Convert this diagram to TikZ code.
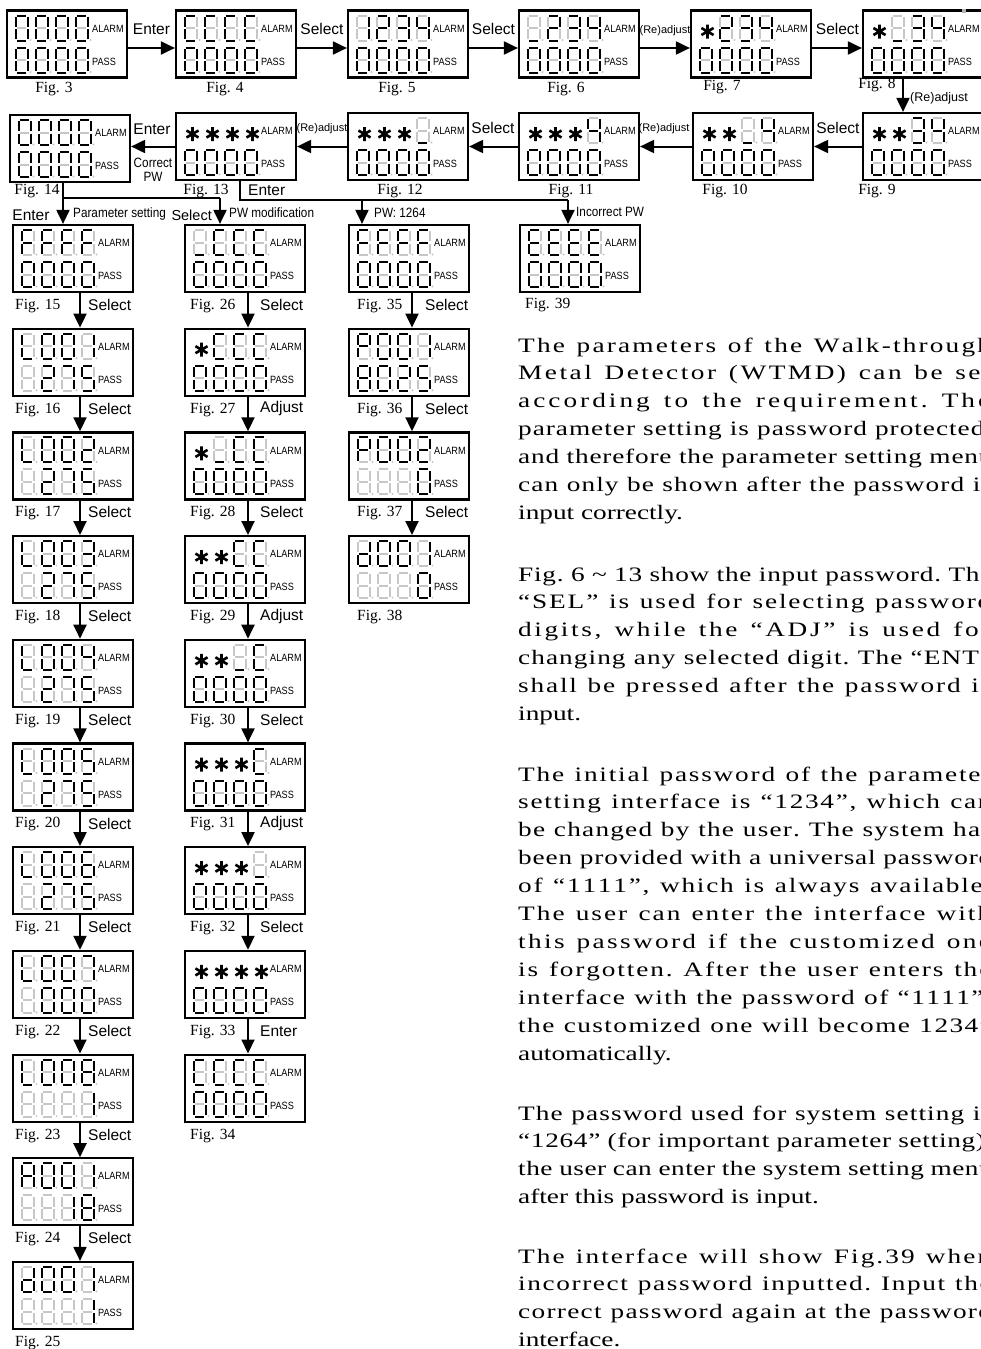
\documentclass[tikz,border=0pt]{standalone}
\usepackage{fontspec}
\setmainfont{Liberation Serif}
\newfontfamily\ptfont[FakeStretch=1.33]{Liberation Serif}
\newfontfamily\arialf{Liberation Sans}
\newfontfamily\narrowf[FakeStretch=0.87]{Liberation Sans}
\usetikzlibrary{arrows.meta}
% segment codes
\newcommand\sgz{abcdef}
\newcommand\sgo{bc}
\newcommand\sgt{abdeg}
\newcommand\sgth{abcdg}
\newcommand\sgf{bcfg}
\newcommand\sgfi{acdfg}
\newcommand\sgsi{acdefg}
\newcommand\sgse{abc}
\newcommand\sge{abcdefg}
\newcommand\sgC{adef}
\newcommand\sgE{adefg}
\newcommand\sgF{aefg}
\newcommand\sgL{def}
\newcommand\sgP{abefg}
\newcommand\sgA{abcefg}
\newcommand\sgd{bcdeg}
\newcommand\sgu{d}
\newcommand\sgb{-}
\newcommand\sga{*}
\def\astcode{*}
\makeatletter
\newcommand\sseg[3]{\edef\tmpa{\noexpand\in@{#1}{\segs}}\tmpa
  \ifin@\draw[segon] #2 -- #3;\else\draw[segoff] #2 -- #3;\fi}
% letter-spaced justification
\def\lsp{\hskip 0pt plus 1pt\relax}
\def\wsp{\hskip 0.25em plus 2pt\relax}
\def\tld{\char126\wsp}
\def\spreadstop{\spreadstop@}
\def\Spread#1{\spread@w#1 \spread@end}
\def\spread@w#1 #2\spread@end{\spread@l#1\spreadstop\if\relax\detokenize{#2}\relax\else\wsp\spread@w#2\spread@end\fi}
\def\spread@l#1{\ifx#1\spreadstop\else#1\lsp\expandafter\spread@l\fi}
\makeatother
\newcommand\cell[3]{\edef\segs{#3}\edef\tmpcode{#3}%
  \ifx\tmpcode\astcode
    \draw[astk] ({#1+8},{#2+16}) +(90:7) -- +(270:7)
      ({#1+8},{#2+16}) +(30:7) -- +(210:7)
      ({#1+8},{#2+16}) +(150:7) -- +(330:7);
  \else
    \begin{scope}[shift={({#1},{#2})}]
      \sseg{a}{(1.3,0)}{(10.7,0)}
      \sseg{b}{(12,1.3)}{(12,11.2)}
      \sseg{c}{(12,13.8)}{(12,23.7)}
      \sseg{d}{(1.3,25)}{(10.7,25)}
      \sseg{e}{(0,13.8)}{(0,23.7)}
      \sseg{f}{(0,1.3)}{(0,11.2)}
      \sseg{g}{(1.3,12.5)}{(10.7,12.5)}
      \fill[segoff] (15,24.5) circle (1.1);
    \end{scope}
  \fi}
\newcommand\drow[6]{\cell{#1+8.5}{#2}{#3}\cell{#1+28.5}{#2}{#4}\cell{#1+48.5}{#2}{#5}\cell{#1+68.5}{#2}{#6}}
\newcommand\lcd[5]{%
  \node[lcdbox] (#1) at ({#2+60},{#3+33.5}) {};
  \drow{#2}{#3+5}#4%
  \drow{#2}{#3+37}#5%
  \node[tag] (#1-al) at ({#2+85},{#3+18}) {ALARM};
  \node[tag] (#1-ps) at ({#2+85},{#3+51}) {PASS};}
\newcommand\JL[3]{\node[ptext] (#1) at (518,#2) {\makebox[475pt][s]{\Spread{#3}}};}
\newcommand\NL[3]{\node[ptext] (#1) at (518,#2) {#3};}
\tikzset{
  lcdbox/.style={draw, rectangle, line width=2.2pt, minimum width=120pt, minimum height=67pt, inner sep=0pt},
  segon/.style={line width=2pt, color=black},
  segoff/.style={line width=2pt, color=black!22},
  astk/.style={line width=2.6pt, color=black},
  tag/.style={anchor=west, inner sep=0pt, font=\narrowf\fontsize{10.5pt}{12pt}\selectfont},
  figl/.style={inner sep=0pt, font=\fontsize{15.5pt}{18pt}\selectfont},
  act/.style={inner sep=0pt, font=\arialf\fontsize{15.5pt}{18pt}\selectfont},
  actsm/.style={inner sep=0pt, font=\arialf\fontsize{11pt}{13pt}\selectfont},
  note/.style={inner sep=0pt, font=\narrowf\fontsize{13.5pt}{14pt}\selectfont},
  arr/.style={line width=2pt, -{Triangle[length=14pt,width=13pt]}},
  conn/.style={line width=2pt},
  ptext/.style={anchor=base west, inner sep=0pt, font=\ptfont\fontsize{20.5pt}{24pt}\selectfont}
}
\begin{document}
\begin{tikzpicture}[x=1pt,y=-1pt]
\useasboundingbox (0,0) rectangle (981,1349);
\fill[white] (0,0) rectangle (981,1349);
% ---------- row 1
\lcd{b3}{7}{10.5}{\sgz\sgz\sgz\sgz}{\sgz\sgz\sgz\sgz}
\lcd{b4}{176}{10.5}{\sgC\sgC\sgC\sgC}{\sgz\sgz\sgz\sgz}
\lcd{b5}{348}{10.5}{\sgo\sgt\sgth\sgf}{\sgz\sgz\sgz\sgz}
\lcd{b6}{519}{10.5}{\sgu\sgt\sgth\sgf}{\sgz\sgz\sgz\sgz}
\lcd{b7}{691}{10.5}{\sga\sgt\sgth\sgf}{\sgz\sgz\sgz\sgz}
\lcd{b8}{863}{10.5}{\sga\sgu\sgth\sgf}{\sgz\sgz\sgz\sgz}
\fill[black!30] (962,9) rectangle (966,13);
% ---------- row 2
\lcd{b9}{863}{113}{\sga\sga\sgth\sgf}{\sgz\sgz\sgz\sgz}
\lcd{b10}{693}{113}{\sga\sga\sgu\sgf}{\sgz\sgz\sgz\sgz}
\lcd{b11}{519}{113}{\sga\sga\sga\sgf}{\sgz\sgz\sgz\sgz}
\lcd{b12}{348}{113}{\sga\sga\sga\sgu}{\sgz\sgz\sgz\sgz}
\lcd{b13}{176}{113}{\sga\sga\sga\sga}{\sgz\sgz\sgz\sgz}
\lcd{b14}{10}{115}{\sgz\sgz\sgz\sgz}{\sgz\sgz\sgz\sgz}
% ---------- column 1
\lcd{b15}{13}{225}{\sgF\sgF\sgF\sgF}{\sgz\sgz\sgz\sgz}
\lcd{b16}{13}{225+1*103.7}{\sgL\sgz\sgz\sgo}{\sgb\sgt\sgse\sgfi}
\lcd{b17}{13}{225+2*103.7}{\sgL\sgz\sgz\sgt}{\sgb\sgt\sgse\sgfi}
\lcd{b18}{13}{225+3*103.7}{\sgL\sgz\sgz\sgth}{\sgb\sgt\sgse\sgfi}
\lcd{b19}{13}{225+4*103.7}{\sgL\sgz\sgz\sgf}{\sgb\sgt\sgse\sgfi}
\lcd{b20}{13}{225+5*103.7}{\sgL\sgz\sgz\sgfi}{\sgb\sgt\sgse\sgfi}
\lcd{b21}{13}{225+6*103.7}{\sgL\sgz\sgz\sgsi}{\sgb\sgt\sgse\sgfi}
\lcd{b22}{13}{225+7*103.7}{\sgL\sgz\sgz\sgse}{\sgb\sgz\sgz\sgz}
\lcd{b23}{13}{225+8*103.7}{\sgL\sgz\sgz\sge}{\sgb\sgb\sgb\sgo}
\lcd{b24}{13}{225+9*103.7}{\sgA\sgz\sgz\sgo}{\sgb\sgb\sgo\sge}
\lcd{b25}{13}{225+10*103.7}{\sgd\sgz\sgz\sgo}{\sgb\sgb\sgb\sgo}
% ---------- column 2
\lcd{b26}{185}{225}{\sgu\sgC\sgC\sgC}{\sgz\sgz\sgz\sgz}
\lcd{b27}{185}{225+1*103.7}{\sga\sgC\sgC\sgC}{\sgz\sgz\sgz\sgz}
\lcd{b28}{185}{225+2*103.7}{\sga\sgu\sgC\sgC}{\sgz\sgz\sgz\sgz}
\lcd{b29}{185}{225+3*103.7}{\sga\sga\sgC\sgC}{\sgz\sgz\sgz\sgz}
\lcd{b30}{185}{225+4*103.7}{\sga\sga\sgu\sgC}{\sgz\sgz\sgz\sgz}
\lcd{b31}{185}{225+5*103.7}{\sga\sga\sga\sgC}{\sgz\sgz\sgz\sgz}
\lcd{b32}{185}{225+6*103.7}{\sga\sga\sga\sgu}{\sgz\sgz\sgz\sgz}
\lcd{b33}{185}{225+7*103.7}{\sga\sga\sga\sga}{\sgz\sgz\sgz\sgz}
\lcd{b34}{185}{225+8*103.7}{\sgC\sgC\sgC\sgC}{\sgz\sgz\sgz\sgz}
% ---------- column 3
\lcd{b35}{349}{225}{\sgF\sgF\sgF\sgF}{\sgz\sgz\sgz\sgz}
\lcd{b36}{349}{225+1*103.7}{\sgP\sgz\sgz\sgo}{\sge\sgz\sgt\sgfi}
\lcd{b37}{349}{225+2*103.7}{\sgP\sgz\sgz\sgt}{\sgb\sgb\sgb\sgz}
\lcd{b38}{349}{225+3*103.7}{\sgd\sgz\sgz\sgo}{\sgb\sgb\sgb\sgz}
% ---------- Fig 39
\lcd{b39}{520}{225}{\sgE\sgE\sgE\sgE}{\sgz\sgz\sgz\sgz}

% ---------- figure labels
\node[figl] (f3) at (54,89) {Fig. 3};
\node[figl] (f4) at (225,89) {Fig. 4};
\node[figl] (f5) at (397,89) {Fig. 5};
\node[figl] (f6) at (566,89) {Fig. 6};
\node[figl] (f7) at (722,87) {Fig. 7};
\node[figl] (f8) at (877,85) {Fig. 8};
\node[figl] (f14) at (37,191) {Fig. 14};
\node[figl] (f13) at (206,191) {Fig. 13};
\node[figl] (f12) at (400,191) {Fig. 12};
\node[figl] (f11) at (571,191) {Fig. 11};
\node[figl] (f10) at (725,191) {Fig. 10};
\node[figl] (f9) at (877,191) {Fig. 9};
\foreach \k in {0,...,10}{\pgfmathtruncatemacro\n{15+\k}
  \node[figl,anchor=west] (f\n) at (15,{225+\k*103.7+81}) {Fig. \n};}
\foreach \k in {0,...,8}{\pgfmathtruncatemacro\n{26+\k}
  \node[figl,anchor=west] (f\n) at (190,{225+\k*103.7+81}) {Fig. \n};}
\foreach \k in {0,...,3}{\pgfmathtruncatemacro\n{35+\k}
  \node[figl,anchor=west] (f\n) at (357,{225+\k*103.7+81}) {Fig. \n};}
\node[figl,anchor=west] (f39) at (525,305) {Fig. 39};

% ---------- row 1 connectors
\draw[arr] ([yshift=-4pt]b3.east) -- ([yshift=-4pt]b4.west);
\draw[arr] ([yshift=-4pt]b4.east) -- ([yshift=-4pt]b5.west);
\draw[arr] ([yshift=-4pt]b5.east) -- ([yshift=-4pt]b6.west);
\draw[arr] ([yshift=-4pt]b6.east) -- ([yshift=-4pt]b7.west);
\draw[arr] ([yshift=-4pt]b7.east) -- ([yshift=-4pt]b8.west);
\node[act] (l34) at (151.5,29) {Enter};
\node[act] (l45) at (322,29) {Select};
\node[act] (l56) at (493.5,29) {Select};
\node[actsm] (l67) at (665,31) {(Re)adjust};
\node[act] (l78) at (837.5,29) {Select};
\coordinate (x89) at (903,95);
\draw[arr] (b8.south -| x89) -- (b9.north -| x89);
\node[actsm,anchor=west,font=\arialf\fontsize{12.5pt}{14pt}\selectfont] (l89) at (910,98) {(Re)adjust};

% ---------- row 2 connectors
\draw[arr] (b9.west) -- (b10.east);
\draw[arr] (b10.west) -- (b11.east);
\draw[arr] (b11.west) -- (b12.east);
\draw[arr] (b12.west) -- (b13.east);
\draw[arr] (b13.west) -- (b13.west -| b14.east);
\node[act] (l910) at (838,128) {Select};
\node[actsm] (l1011) at (664,129) {(Re)adjust};
\node[act] (l1112) at (493,128) {Select};
\node[actsm] (l1213) at (322,129) {(Re)adjust};
\node[act] (l1314) at (152,129) {Enter};
\node[note,align=center] (cpw) at (153,170) {Correct\\PW};

% ---------- branches
\coordinate (j14) at (63,198);
\coordinate (j26) at (220,198);
\coordinate (j13) at (240,200);
\coordinate (j35) at (362,200);
\coordinate (j39) at (568,200);
\draw[conn] (b14.south -| j14) -- (j14) -- (j26);
\draw[arr] (j14) -- (j14 |- b15.north);
\draw[arr] (j26) -- (j26 |- b26.north);
\draw[conn] (b13.south -| j13) -- (j13) -- (j39);
\draw[arr] (j35) -- (j35 |- b35.north);
\draw[arr] (j39) -- (j39 |- b39.north);
\node[act] (le15) at (31,215) {Enter};
\node[note,anchor=west] (lps) at (73,214) {Parameter setting};
\node[act,anchor=east,font=\arialf\fontsize{14.5pt}{16pt}\selectfont] (ls26) at (212,215) {Select};
\node[note,anchor=west] (lpm) at (229,213) {PW modification};
\node[act,anchor=west] (le13) at (248,190) {Enter};
\node[note,anchor=west] (lpw) at (374,213) {PW: 1264};
\node[note,anchor=west] (lipw) at (576,212) {Incorrect PW};

% ---------- column connectors
\foreach \k in {0,...,9}{\pgfmathtruncatemacro\n{15+\k}\pgfmathtruncatemacro\m{16+\k}
  \draw[arr] ([xshift=7pt]b\n.south) -- ([xshift=7pt]b\m.north);
  \node[act,anchor=west] (s\n) at (88,{225+\k*103.7+80}) {Select};}
\foreach \k/\lab in {0/Select,1/Adjust,2/Select,3/Adjust,4/Select,5/Adjust,6/Select,7/Enter}{%
  \pgfmathtruncatemacro\n{26+\k}\pgfmathtruncatemacro\m{27+\k}
  \draw[arr] ([xshift=3pt]b\n.south) -- ([xshift=3pt]b\m.north);
  \node[act,anchor=west] (s\n) at (260,{225+\k*103.7+80}) {\lab};}
\foreach \k in {0,...,2}{\pgfmathtruncatemacro\n{35+\k}\pgfmathtruncatemacro\m{36+\k}
  \draw[arr] ([xshift=3pt]b\n.south) -- ([xshift=3pt]b\m.north);
  \node[act,anchor=west] (s\n) at (425,{225+\k*103.7+80}) {Select};}

% ---------- text
\JL{p1a}{352.0}{The parameters of the Walk-through}
\JL{p1b}{379.9}{Metal Detector (WTMD) can be set}
\JL{p1c}{407.8}{according to the requirement. The}
\JL{p1d}{435.7}{parameter setting is password protected,}
\JL{p1e}{463.6}{and therefore the parameter setting menu}
\JL{p1f}{491.5}{can only be shown after the password is}
\NL{p1g}{519.4}{input correctly.}
\JL{p2a}{581.0}{Fig. 6 \tld 13 show the input password. The}
\JL{p2b}{608.9}{“SEL” is used for selecting password}
\JL{p2c}{636.8}{digits, while the “ADJ” is used for}
\JL{p2d}{664.7}{changing any selected digit. The “ENT”}
\JL{p2e}{692.6}{shall be pressed after the password is}
\NL{p2f}{720.5}{input.}
\JL{p3a}{781.0}{The initial password of the parameter}
\JL{p3b}{808.9}{setting interface is “1234”, which can}
\JL{p3c}{836.8}{be changed by the user. The system has}
\JL{p3d}{864.7}{been provided with a universal password}
\JL{p3e}{892.6}{of “1111”, which is always available.}
\JL{p3f}{920.5}{The user can enter the interface with}
\JL{p3g}{948.4}{this password if the customized one}
\JL{p3h}{976.3}{is forgotten. After the user enters the}
\JL{p3i}{1004.2}{interface with the password of “1111”,}
\JL{p3j}{1032.1}{the customized one will become 1234”}
\NL{p3k}{1060.0}{automatically.}
\JL{p4a}{1120.0}{The password used for system setting is}
\JL{p4b}{1147.9}{“1264” (for important parameter setting),}
\JL{p4c}{1175.8}{the user can enter the system setting menu}
\NL{p4d}{1203.7}{after this password is input.}
\JL{p5a}{1263.0}{The interface will show Fig.39 when}
\JL{p5b}{1290.9}{incorrect password inputted. Input the}
\JL{p5c}{1318.8}{correct password again at the password}
\NL{p5d}{1346.7}{interface.}
\end{tikzpicture}
\end{document}
